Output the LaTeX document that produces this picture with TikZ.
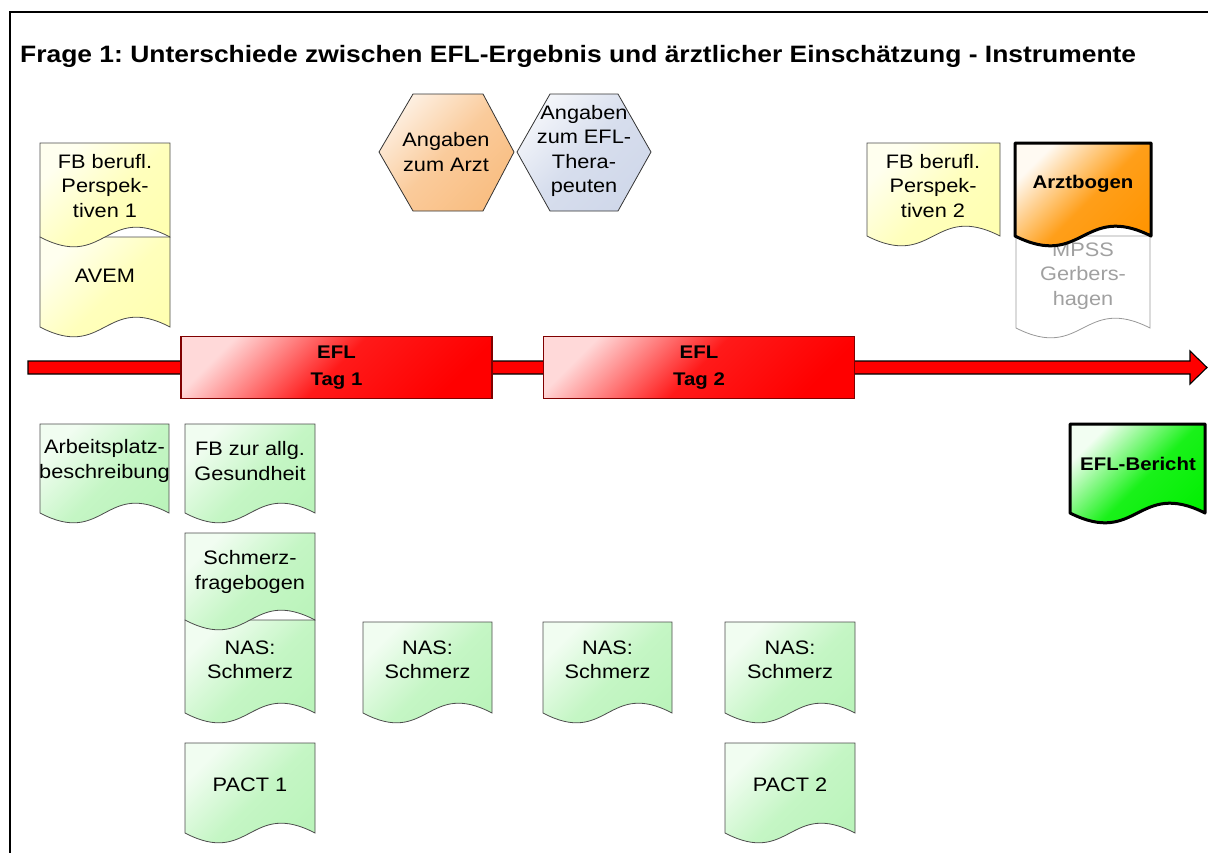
\documentclass[tikz,border=0pt]{standalone}
\usepackage{fontspec}
\setmainfont{Liberation Sans}[FakeStretch=1.115]
\frenchspacing
\definecolor{docyel}{HTML}{FFFFB0}
\definecolor{docgrn}{HTML}{BAF4BA}
\definecolor{hexorg}{HTML}{F9BE82}
\definecolor{hexblu}{HTML}{D0D8EA}
\definecolor{arztorg}{HTML}{FF9400}
\definecolor{berichtgrn}{HTML}{00F000}
\definecolor{efldark}{HTML}{800000}
\definecolor{mpssgray}{HTML}{A0A0A0}
\newcommand\docshape[5]{%
  \path[#1] (#2,#3) -- (#2+#4,#3) -- (#2+#4,#3+#5)
    .. controls (#2+#4/2,#3+#5-34) and (#2+#4/2,#3+#5+34) .. (#2,#3+#5) -- cycle;}
\tikzset{
  lbl/.style={align=center, inner sep=0pt, font=\fontsize{19.5}{24.5}\selectfont},
  boldlbl/.style={lbl, font=\fontsize{18.3}{26.5}\selectfont\bfseries},
  yeldoc/.style={draw=black!70, line width=0.8pt, top color=docyel!20!white, bottom color=docyel, middle color=docyel!85!white, shading angle=45},
  grndoc/.style={draw=black!70, line width=0.8pt, top color=docgrn!20!white, bottom color=docgrn, middle color=docgrn!85!white, shading angle=45},
  mpssdoc/.style={draw=black!40, line width=0.8pt, fill=white},
  arztdoc/.style={draw=black, line width=3pt, line join=round, top color=arztorg!5!white, bottom color=arztorg, middle color=arztorg!90!white, shading angle=45},
  berichtdoc/.style={draw=black, line width=3pt, line join=round, top color=berichtgrn!5!white, bottom color=berichtgrn, middle color=berichtgrn!90!white, shading angle=45},
  hexA/.style={draw=black!80, line width=0.8pt, top color=hexorg!25!white, bottom color=hexorg, middle color=hexorg!80!white, shading angle=45},
  hexB/.style={draw=black!80, line width=0.8pt, top color=hexblu!25!white, bottom color=hexblu, middle color=hexblu!85!white, shading angle=45},
  eflbox/.style={draw=efldark, line width=1.2pt, top color=red!15!white, bottom color=red, middle color=red!90!white, shading angle=45, minimum width=311pt, minimum height=62pt, boldlbl},
  timeline/.style={draw=black, line width=1.1pt, fill=red, line join=miter},
}
\begin{document}
\begin{tikzpicture}[x=1pt,y=-1pt]
\useasboundingbox (0,0) rectangle (1208,852);
\clip (0,0) rectangle (1208,852);
% frame
\draw[line width=2pt] (10,880) -- (10,12) -- (1240,12);
\node[anchor=base west, inner sep=0pt, font=\fontsize{23.7}{28}\selectfont\bfseries] (title) at (20,62)
  {Frage 1: Unterschiede zwischen EFL-Ergebnis und ärztlicher Einschätzung - Instrumente};

% upper left documents
\docshape{yeldoc}{40}{237}{130}{90}
\docshape{yeldoc}{40}{143}{130}{94}
\node[lbl] (fb1) at (105,186) {FB berufl.\\Perspek-\\tiven 1};
\node[lbl] (avem) at (105,276) {AVEM};

% hexagons
\path[hexA] (379,152) -- (413,94) -- (483,94) -- (514,152) -- (483,211) -- (413,211) -- cycle;
\node[lbl] (arzt) at (446,152) {Angaben\\zum Arzt};
\path[hexB] (517,152) -- (550,94) -- (618,94) -- (651,152) -- (618,211) -- (550,211) -- cycle;
\node[lbl] (ther) at (584,151) {Angaben\\zum EFL-\\Thera-\\peuten};

% upper right documents
\docshape{yeldoc}{867}{143}{133}{93}
\node[lbl] (fb2) at (933,186) {FB berufl.\\Perspek-\\tiven 2};
\docshape{mpssdoc}{1016}{236}{134}{92}
\node[lbl, text=mpssgray] (mpss) at (1083,276) {MPSS\\Gerbers-\\hagen};
\docshape{arztdoc}{1015}{143}{136}{93}
\node[boldlbl] (arztbogen) at (1083,184) {Arztbogen};

% timeline
\coordinate (tlstart) at (28,367.5);
\coordinate (tlend) at (1207,367.5);
\path[timeline] (28,361) -- (1190,361) -- (1190,351) -- (tlend) -- (1190,384) -- (1190,374) -- (28,374) -- cycle;
\node[eflbox] (tag1) at (336.5,367.5) {EFL\\Tag 1};
\node[eflbox] (tag2) at (699,367.5) {EFL\\Tag 2};

% lower documents
\docshape{grndoc}{40}{424}{129}{89}
\node[lbl] (arb) at (104.5,461) {Arbeitsplatz-\\beschreibung};
\docshape{grndoc}{185}{424}{130}{89}
\node[lbl] (fbges) at (250,461) {FB zur allg.\\Gesundheit};
\docshape{grndoc}{185}{620}{130}{93}
\docshape{grndoc}{185}{533}{130}{87}
\node[lbl] (schmerz) at (250,572) {Schmerz-\\fragebogen};
\node[lbl] (nas1) at (250,660) {NAS:\\Schmerz};
\docshape{grndoc}{363}{622}{129}{91}
\node[lbl] (nas2) at (427.5,660) {NAS:\\Schmerz};
\docshape{grndoc}{543}{622}{129}{91}
\node[lbl] (nas3) at (607.5,660) {NAS:\\Schmerz};
\docshape{grndoc}{725}{622}{130}{91}
\node[lbl] (nas4) at (790,660) {NAS:\\Schmerz};
\docshape{grndoc}{185}{743}{130}{90}
\node[lbl] (pact1) at (250,785) {PACT 1};
\docshape{grndoc}{725}{743}{130}{90}
\node[lbl] (pact2) at (790,785) {PACT 2};

\docshape{berichtdoc}{1070}{424}{135}{89}
\node[boldlbl] (bericht) at (1138,464) {EFL-Bericht};
\end{tikzpicture}
\end{document}
